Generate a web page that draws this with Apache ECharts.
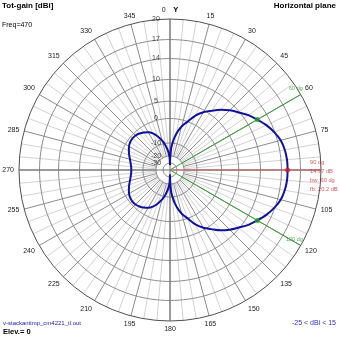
<!DOCTYPE html>
<html>
<head>
<meta charset="utf-8">
<script src="https://cdn.jsdelivr.net/npm/echarts@6/dist/echarts.min.js"></script>
<style>
  html, body { margin: 0; padding: 0; background: #ffffff; }
  #chart { width: 339px; height: 339px; }
</style>
</head>
<body>
<div id="chart"></div>
<script>
// Horizontal-plane total gain pattern, 470 MHz (azimuth in degrees, gain in dBi)
const azimuthDeg = [
  0, 1, 3, 5, 8, 12, 16, 20, 25, 30, 35, 40, 45, 50, 55, 60, 65, 70, 75, 80, 85, 90,
  95, 100, 105, 110, 115, 120, 125, 130, 135, 140, 145, 150, 155, 160, 164, 168, 172, 175, 177, 179, 180,
  182, 185, 188, 191, 194, 200, 205, 210, 215, 220, 225, 230, 235, 240, 245, 250, 255, 260, 265, 270,
  275, 280, 285, 290, 295, 300, 305, 310, 315, 320, 325, 330, 335, 340, 346, 349, 352, 355, 358, 360
];
const gainDbi = [
  -33, -22, -14, -10.5, -7.5, -4.5, -2, 0, 2.5, 4.4, 5.8, 7.3, 8.6, 9.8, 11, 11.97, 13, 13.9, 14.5, 14.8, 14.95, 14.97,
  14.95, 14.8, 14.5, 13.9, 13, 11.97, 11, 9.8, 8.6, 7.3, 5.8, 4.4, 2.5, 0, -2, -4.5, -7.5, -10.5, -14, -22, -33,
  -22, -17, -14, -11, -9, -6.5, -4.5, -3.2, -2.3, -1.6, -1.1, -1.0, -1.2, -1.7, -2.5, -3.3, -4.1, -4.7, -5.1, -5.23,
  -5.1, -4.7, -4.1, -3.3, -2.5, -1.7, -1.2, -1.0, -1.1, -1.6, -2.3, -3.2, -4.5, -6.5, -9, -11, -14, -17, -22, -33
];

// Gain rings (dBi) and azimuth tick labels (degrees)
const ringDbi = [20, 17, 14, 10, 5, 0, -10, -20, -30];
const azimuthTicks = [0, 15, 30, 45, 60, 75, 90, 105, 120, 135, 150, 165, 180,
  195, 210, 225, 240, 255, 270, 285, 300, 315, 330, 345];

// Main beam summary
const peakAzimuth = 90;
const peakGain = 14.97;
const beamEdgeAzimuth = [60, 120];
const beamEdgeGain = [11.97, 11.97];
const backGain = -5.23;

// Compressed gain scale: dBi -> fraction of the plot radius
const scaleDbi  = [-40, -30, -20, -10, 0, 5, 10, 14, 17, 20];
const scaleFrac = [0, 0.046, 0.093, 0.179, 0.341, 0.455, 0.599, 0.738, 0.864, 1];
function toFrac(db) {
  if (db <= scaleDbi[0]) return scaleFrac[0];
  for (let i = 1; i < scaleDbi.length; i++) {
    if (db <= scaleDbi[i]) {
      const t = (db - scaleDbi[i - 1]) / (scaleDbi[i] - scaleDbi[i - 1]);
      return scaleFrac[i - 1] + t * (scaleFrac[i] - scaleFrac[i - 1]);
    }
  }
  return 1;
}

const FONT = 'Liberation Sans';
const CENTER = [170, 170];
const RADIUS = 151;

const circleSteps = [];
for (let a = 0; a <= 360; a += 2) circleSteps.push(a);

const ringSeries = ringDbi.slice(1).map(function (db) {
  return {
    type: 'line', coordinateSystem: 'polar', polarIndex: 1,
    data: circleSteps.map(function (a) { return [toFrac(db), a]; }),
    symbol: 'none', silent: true, clip: false, z: 2,
    lineStyle: { color: '#8c8c8c', width: 1 }
  };
});

function spoke(points, color, z) {
  return {
    type: 'line', coordinateSystem: 'polar', polarIndex: 1,
    data: points, symbol: 'none', silent: true, clip: false, z: z,
    lineStyle: { color: color, width: 1 }
  };
}

const series = [].concat(ringSeries, [
  spoke([[1, 0], [0, 0], [1, 180]], '#707070', 3),
  spoke([[1, 90], [0, 90], [1, 270]], '#707070', 3),
  spoke([[0, beamEdgeAzimuth[0]], [1, beamEdgeAzimuth[0]]], '#3c9c3c', 4),
  spoke([[0, beamEdgeAzimuth[1]], [1, beamEdgeAzimuth[1]]], '#3c9c3c', 4),
  spoke([[0, peakAzimuth], [1.06, peakAzimuth]], '#d86a6a', 4),
  {
    name: 'Tot-gain', type: 'line', coordinateSystem: 'polar', polarIndex: 1,
    data: azimuthDeg.map(function (a, i) { return [toFrac(gainDbi[i]), a]; }),
    symbol: 'none', smooth: 0.3, clip: false, z: 6,
    lineStyle: { color: '#10109c', width: 2 }
  },
  {
    type: 'scatter', coordinateSystem: 'polar', polarIndex: 1, z: 7, silent: true,
    data: beamEdgeAzimuth.map(function (a, i) { return [toFrac(beamEdgeGain[i]), a]; }),
    symbol: 'circle', symbolSize: 5, itemStyle: { color: '#20a020' }
  },
  {
    type: 'scatter', coordinateSystem: 'polar', polarIndex: 1, z: 7, silent: true,
    data: beamEdgeAzimuth.map(function (a) { return [1, a]; }),
    symbolSize: 0,
    label: {
      show: true, position: 'top', align: 'right', distance: 3, offset: [2, 0],
      formatter: function (p) { return p.value[1] + ' dg'; },
      color: '#2f9a2f', fontSize: 5.5, fontFamily: FONT
    }
  },
  {
    type: 'scatter', coordinateSystem: 'polar', polarIndex: 1, z: 8, silent: true,
    data: [[toFrac(peakGain), peakAzimuth]],
    symbol: 'circle', symbolSize: 5, itemStyle: { color: '#d42020' },
    label: {
      show: true, position: 'right', distance: 20, offset: [0, 6],
      align: 'left', verticalAlign: 'middle', lineHeight: 9,
      color: '#cc3030', fontSize: 5.7, fontFamily: FONT,
      formatter: function () {
        return peakAzimuth + ' dg\n' + peakGain.toFixed(2) + ' dB\nbw: ' +
          (beamEdgeAzimuth[1] - beamEdgeAzimuth[0]) + ' dg\nfb: ' +
          (peakGain - backGain).toFixed(1) + ' dB';
      }
    }
  },
  {
    type: 'scatter', coordinateSystem: 'polar', polarIndex: 1, z: 9, silent: true,
    data: ringDbi.map(function (db) { return [toFrac(db), 0, db]; }),
    symbolSize: 0,
    label: {
      show: true, position: [-14, 0], align: 'center', verticalAlign: 'middle',
      formatter: function (p) { return String(p.data[2]); },
      color: '#111111', fontSize: 7, fontFamily: FONT
    }
  }
]);

const hiddenRadius = { show: true, type: 'value', min: 0, max: 1,
  axisLine: { show: false }, axisTick: { show: false }, axisLabel: { show: false }, splitLine: { show: false } };

const option = {
  backgroundColor: '#ffffff',
  animation: false,
  title: [
    { text: 'Tot-gain [dBi]', left: 2, top: 1.5, padding: 0,
      textStyle: { fontFamily: FONT, fontSize: 8, fontWeight: 'bold', color: '#000' } },
    { text: 'Freq=470', left: 2, top: 21.5, padding: 0,
      textStyle: { fontFamily: FONT, fontSize: 7, fontWeight: 'normal', color: '#000' } },
    { text: 'Horizontal plane', right: 3, top: 1.5, padding: 0,
      textStyle: { fontFamily: FONT, fontSize: 8, fontWeight: 'bold', color: '#000' } },
    { text: 'v-stackantimp_cm4221_tl.out', left: 3, top: 320, padding: 0,
      textStyle: { fontFamily: FONT, fontSize: 6, fontWeight: 'normal', color: '#2020b0' } },
    { text: 'Elev.= 0', left: 3, top: 327.5, padding: 0,
      textStyle: { fontFamily: FONT, fontSize: 7.5, fontWeight: 'bold', color: '#000' } },
    { text: '-25 < dBi < 15', right: 3, top: 319.5, padding: 0,
      textStyle: { fontFamily: FONT, fontSize: 7, fontWeight: 'normal', color: '#3030c0' } }
  ],
  polar: [
    { center: CENTER, radius: [14, RADIUS] },
    { center: CENTER, radius: RADIUS }
  ],
  radiusAxis: [
    Object.assign({ polarIndex: 0 }, hiddenRadius),
    Object.assign({ polarIndex: 1 }, hiddenRadius)
  ],
  angleAxis: [
    {
      polarIndex: 0, type: 'value', min: 0, max: 360, interval: 5,
      startAngle: 90, clockwise: true,
      axisLine: { show: false }, axisTick: { show: false }, axisLabel: { show: false },
      splitLine: { show: true, lineStyle: { color: ['#8c8c8c', '#d2d2d2', '#d2d2d2'], width: 1 } }
    },
    {
      polarIndex: 1, type: 'value', min: 0, max: 360, interval: 15,
      startAngle: 90, clockwise: true,
      axisLine: { show: true, lineStyle: { color: '#505050', width: 1 } },
      axisTick: { show: false },
      splitLine: { show: false },
      axisLabel: {
        show: true, margin: 5, color: '#222222', fontSize: 7, fontFamily: FONT,
        formatter: function (v) {
          if (v === 0) return '{n|0}    {y|Y}';
          if (v === 90 || v === 360 || azimuthTicks.indexOf(v) < 0) return '';
          return String(v);
        },
        rich: {
          n: { fontSize: 7, fontFamily: FONT, color: '#222222' },
          y: { fontSize: 7.5, fontFamily: FONT, fontWeight: 'bold', color: '#000' }
        }
      }
    }
  ],
  series: series
};

const chart = echarts.init(document.getElementById('chart'), null, { renderer: 'canvas' });
chart.setOption(option);
</script>
</body>
</html>
